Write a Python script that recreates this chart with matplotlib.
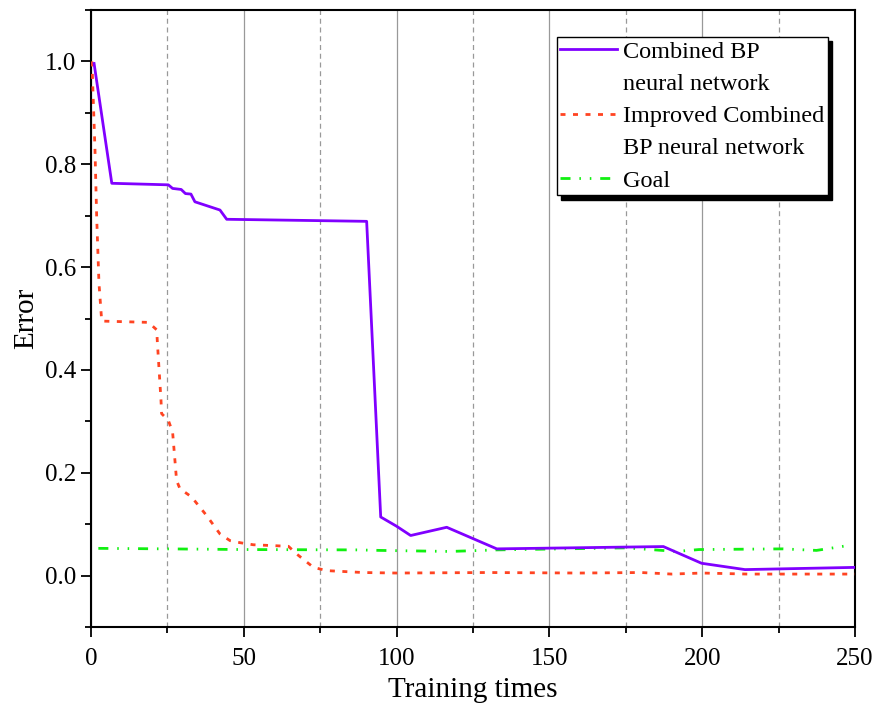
import numpy as np
import matplotlib
matplotlib.use('Agg')
import matplotlib.pyplot as plt
from matplotlib.lines import Line2D

plt.rcParams['font.family'] = ['Liberation Serif', 'DejaVu Serif']

# Combined BP neural network
x_bp = [1.0, 6.8, 25.3, 26.7, 29.5, 30.9, 32.7, 34.0, 42.2, 44.4, 90.2, 94.8,
        100.0, 104.6, 116.4, 132.8, 187.3, 199.8, 214.0, 250.0]
y_bp = [0.996, 0.763, 0.760, 0.753, 0.751, 0.743, 0.742, 0.727, 0.711, 0.693,
        0.689, 0.114, 0.096, 0.078, 0.094, 0.052, 0.0565, 0.024, 0.0117, 0.016]

# Improved Combined BP neural network
x_imp = [0.3, 1.3, 1.85, 2.6, 3.5, 18.8, 21.5, 21.7, 22.9, 23.1, 25.3, 26.7,
         28.0, 29.1, 32.9, 37.8, 42.2, 45.5, 48.8, 53.1, 64.6, 67.3, 72.8,
         77.1, 89.0, 100, 130, 160, 180, 190, 200, 215, 250]
y_imp = [1.0, 0.828, 0.698, 0.569, 0.495, 0.4925, 0.478, 0.455, 0.341, 0.315,
         0.302, 0.279, 0.185, 0.169, 0.153, 0.117, 0.081, 0.068, 0.064, 0.060,
         0.057, 0.042, 0.016, 0.0097, 0.006, 0.005, 0.006, 0.005, 0.006,
         0.003, 0.005, 0.003, 0.003]

# Goal
x_goal = [2.4, 24.8, 49.8, 87.0, 94.6, 117.5, 132.8, 175.3, 191.6, 199.0,
          226.5, 237.4, 247.8]
y_goal = [0.053, 0.052, 0.0507, 0.050, 0.049, 0.047, 0.050, 0.054, 0.047,
          0.0507, 0.052, 0.049, 0.0585]

c_bp = '#8000FF'
c_imp = '#FF4422'
c_goal = '#11F011'
lw = 2.0
dash_imp = (1.8, 2.7)
dash_goal = (3.6, 3.2, 0.55, 3.2, 0.55, 3.2)

fig = plt.figure(figsize=(8.76, 7.05), dpi=100)
ax = fig.add_axes([0.1039, 0.1106, 0.8721, 0.8752])

ax.plot(x_bp, y_bp, color=c_bp, lw=lw, zorder=4)
ax.plot(x_imp, y_imp, color=c_imp, lw=lw, dashes=dash_imp, zorder=3)
ax.plot(x_goal, y_goal, color=c_goal, lw=lw, dashes=dash_goal, zorder=3)

ax.set_xlim(0, 250)
ax.set_ylim(-0.1, 1.1)
ax.set_xticks([0, 50, 100, 150, 200, 250])
ax.set_xticks([25, 75, 125, 175, 225], minor=True)
ax.set_yticks([0.0, 0.2, 0.4, 0.6, 0.8, 1.0])
ax.set_yticks([-0.1, 0.1, 0.3, 0.5, 0.7, 0.9, 1.1], minor=True)
ax.set_yticklabels(['0.0', '0.2', '0.4', '0.6', '0.8', '1.0'])

ax.grid(axis='x', which='major', color='#999999', lw=0.9, ls='-')
ax.grid(axis='x', which='minor', color='#999999', lw=0.9, ls=(0, (4, 3)))
ax.set_axisbelow(True)

ax.tick_params(which='major', direction='out', length=7, width=1.3, labelsize=18)
ax.tick_params(axis='x', which='major', pad=8)
ax.tick_params(which='minor', direction='out', length=4.5, width=1.3)
for sp in ax.spines.values():
    sp.set_linewidth(1.5)

ax.set_xlabel('Training times', fontsize=21, labelpad=5)
ax.set_ylabel('Error', fontsize=21, labelpad=4)

blank = Line2D([], [], color='none')
handles = [Line2D([], [], color=c_bp, lw=lw), blank,
           Line2D([], [], color=c_imp, lw=lw, dashes=dash_imp), blank,
           Line2D([], [], color=c_goal, lw=lw, dashes=dash_goal)]
labels = ['Combined BP', 'neural network', 'Improved Combined',
          'BP neural network', 'Goal']
leg = ax.legend(handles, labels, loc='upper right', bbox_to_anchor=(0.965, 0.956),
                fontsize=17.5, frameon=True, fancybox=False, borderaxespad=0,
                handlelength=2.35, handletextpad=0.25, labelspacing=0.42,
                borderpad=0.15,
                shadow={'ox': 3, 'oy': -3, 'facecolor': 'k', 'edgecolor': 'k', 'alpha': 1})
leg.get_frame().set_edgecolor('black')
leg.get_frame().set_linewidth(1.0)
leg.get_frame().set_alpha(1)

fig.savefig('out.png', dpi=100)
